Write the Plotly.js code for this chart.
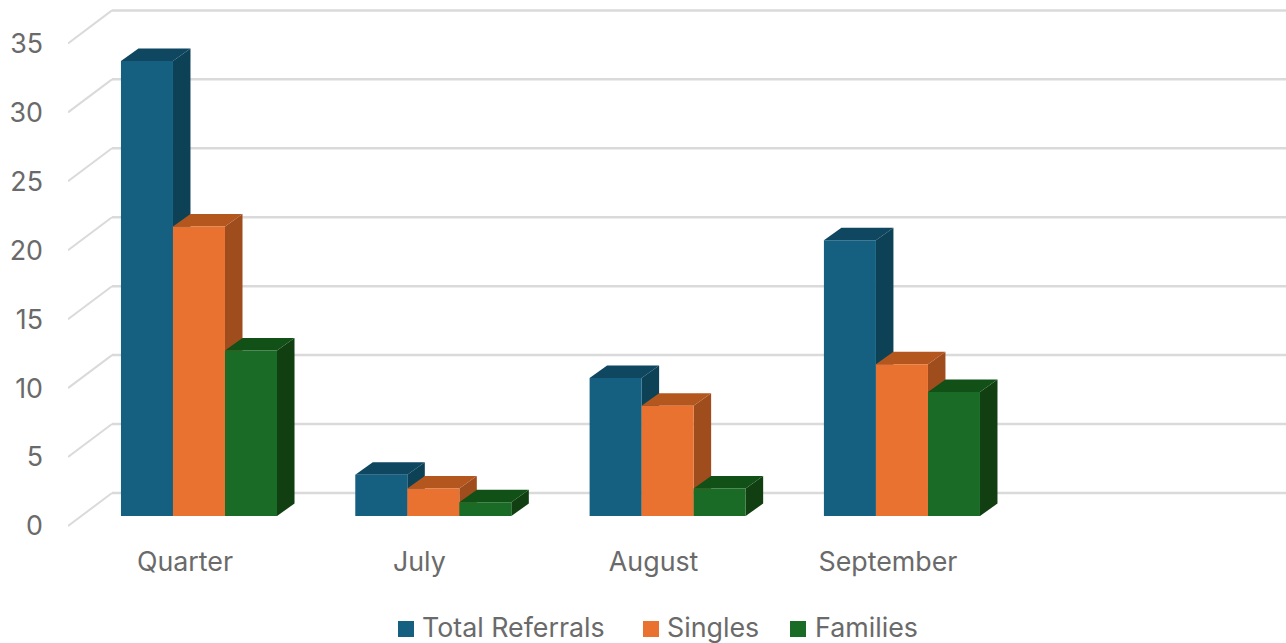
<!DOCTYPE html>
<html>
<head>
<meta charset="utf-8">
<script src="https://cdn.plot.ly/plotly-3.0.1.min.js"></script>
<style>html,body{margin:0;padding:0;background:#fff}#chart{width:1286px;height:643px}</style>
</head>
<body>
<div id="chart"></div>
<script>
const categories = ["Quarter", "July", "August", "September"];
const totalReferrals = [33, 3, 10, 20];
const singles = [21, 2, 8, 11];
const families = [12, 1, 2, 9];
const yTicks = [0, 5, 10, 15, 20, 25, 30, 35];

const seriesNames = ["Total Referrals", "Singles", "Families"];
const seriesValues = [totalReferrals, singles, families];
const frontColors = ["#155F80", "#EA7231", "#1A6B26"];
const topColors = ["#0F4660", "#B4571F", "#115016"];
const sideColors = ["#0D4256", "#A04D1E", "#113F12"];

// Scales: one x unit is one category slot, one y unit is one referral
const pxPerX = 234.3, pxPerY = 13.79;
const barGap = 0.334;
const barWidth = (1 - barGap) / 3;
const depthX = 17.5 / pxPerX, depthY = 12.5 / pxPerY;
const xMin = -0.559, xMax = 4.639, yMin = -1.015, yMax = 37.06;
const wallBackX = xMin + 44 / pxPerX;
const wallBackLift = 23 / pxPerY, wallFrontDrop = 10 / pxPerY;

const marginL = 68, marginT = 5, marginB = 113, plotW = 1218, plotH = 525;
const paperX = px => (px - marginL) / plotW;
const paperY = py => (marginT + plotH - py) / plotH;

const poly = (pts, color) => ({
  type: "path", xref: "x", yref: "y", layer: "below",
  path: "M" + pts.map(p => p.join(",")).join("L") + "Z",
  fillcolor: color, line: {width: 0}
});
const gridColor = "#DADADA";
const seg = (x0, y0, x1, y1, w) => ({
  type: "line", xref: "x", yref: "y", layer: "below",
  x0, y0, x1, y1, line: {color: gridColor, width: w}
});

const shapes = [];
yTicks.forEach(v => {
  shapes.push(seg(xMin, v - wallFrontDrop, wallBackX, v + wallBackLift, 2));
  shapes.push(seg(wallBackX, v + wallBackLift, xMax, v + wallBackLift, 2.5));
});
categories.forEach((c, i) => {
  seriesValues.forEach((vals, s) => {
    const x0 = i + (s - 1.5) * barWidth, x1 = x0 + barWidth, v = vals[i];
    shapes.push(poly([[x1, 0], [x1 + depthX, depthY], [x1 + depthX, v + depthY], [x1, v]], sideColors[s]));
    shapes.push(poly([[x0, v], [x1, v], [x1 + depthX, v + depthY], [x0 + depthX, v + depthY]], topColors[s]));
  });
});

const traces = seriesValues.map((vals, s) => ({
  type: "bar", name: seriesNames[s],
  x: categories.map((c, i) => i), y: vals,
  marker: {color: frontColors[s], line: {width: 0}},
  hoverinfo: "x+y+name"
}));

const textFont = {family: "Inter, 'Open Sans', sans-serif", size: 26.8, color: "#6A6A6A"};

// Legend row: swatch left edges and label left edges
const legendSwatchX = [398, 643, 790];
const legendTextX = [422, 667, 815];
const annotations = seriesNames.map((n, s) => ({
  text: n, xref: "paper", yref: "paper", x: paperX(legendTextX[s]), y: paperY(627),
  xanchor: "left", yanchor: "middle", showarrow: false, font: textFont,
  borderpad: 0, borderwidth: 0
}));
seriesNames.forEach((n, s) => shapes.push({
  type: "rect", xref: "paper", yref: "paper",
  x0: paperX(legendSwatchX[s]), x1: paperX(legendSwatchX[s] + 16),
  y0: paperY(637), y1: paperY(621),
  fillcolor: frontColors[s], line: {width: 0}
}));

Plotly.newPlot("chart", traces, {
  width: 1286, height: 643,
  margin: {l: marginL, r: 0, t: marginT, b: marginB, pad: 0},
  paper_bgcolor: "#fff", plot_bgcolor: "#fff",
  barmode: "group", bargap: barGap, bargroupgap: 0,
  xaxis: {
    range: [xMin, xMax], tickmode: "array", tickvals: categories.map((c, i) => i), ticktext: categories,
    showgrid: false, zeroline: false, showline: false, ticks: "", tickfont: textFont,
    ticklabelshift: -14, ticklabelstandoff: 13
  },
  yaxis: {
    range: [yMin, yMax], tickmode: "array", tickvals: yTicks, ticktext: yTicks.map(String),
    showgrid: false, zeroline: false, showline: false, ticks: "", tickfont: textFont,
    ticklabelshift: 10, ticklabelstandoff: 24
  },
  showlegend: false,
  annotations,
  shapes
}, {displayModeBar: false, staticPlot: true});
</script>
</body>
</html>
